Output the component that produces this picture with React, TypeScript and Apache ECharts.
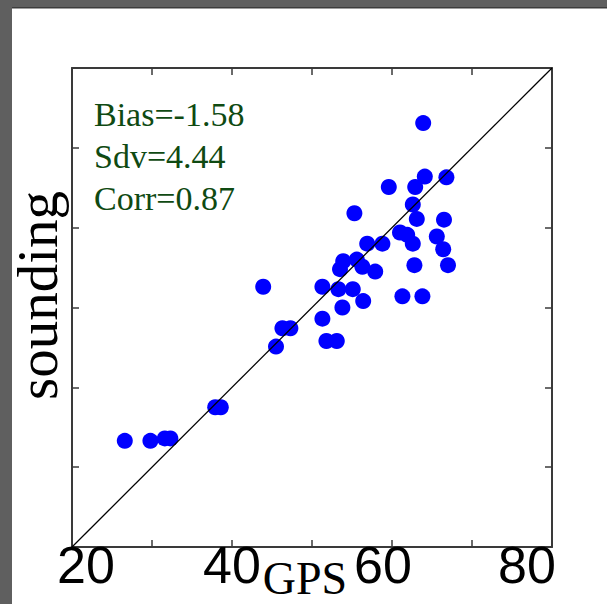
import React, { useEffect, useRef } from "react";
import * as echarts from "echarts";

const gpsValues = [26.6, 29.8, 31.6, 32.3, 37.9, 38.6, 43.9, 45.5, 46.3, 47.3, 51.3, 51.3, 51.8, 53.1, 53.3, 53.8, 53.5, 53.9, 55.1, 55.3, 55.6, 56.3, 56.4, 56.9, 57.9, 58.8, 59.6, 61.0, 61.3, 61.9, 62.6, 62.6, 62.8, 62.9, 63.1, 63.8, 63.9, 64.1, 65.6, 66.4, 66.5, 66.8, 67.0];
const soundingValues = [33.3, 33.3, 33.6, 33.6, 37.5, 37.5, 52.6, 45.1, 47.4, 47.4, 48.6, 52.6, 45.8, 45.8, 52.3, 50.0, 54.8, 55.8, 52.3, 61.8, 56.0, 55.1, 50.8, 58.0, 54.5, 58.0, 65.1, 59.4, 51.4, 59.1, 58.0, 62.9, 55.3, 65.1, 61.1, 51.4, 73.1, 66.4, 58.9, 57.3, 61.0, 66.3, 55.3];
const statLines = ["Bias=-1.58", "Sdv=4.44", "Corr=0.87"];
const axisMin = 20;
const axisMax = 80;
const tickStep = 10;
const labeledTicks = [20, 40, 60, 80];
const oneToOne = [[axisMin, axisMin], [axisMax, axisMax]];

const frameColor = "#3a3a3a";

export default function App() {
  const ref = useRef<HTMLDivElement>(null);
  useEffect(() => {
    if (!ref.current) return;
    const chart = echarts.init(ref.current, undefined, { renderer: "svg" });
    const points = gpsValues.map((g, i) => [g, soundingValues[i]]);
    const axisCommon = {
      type: "value" as const,
      min: axisMin,
      max: axisMax,
      interval: tickStep,
      splitLine: { show: false },
      axisLine: { show: true, lineStyle: { color: frameColor, width: 2 } },
      axisTick: { show: true, inside: true, length: 7, lineStyle: { color: frameColor, width: 1.5 } },
    };
    const labelFont = "'Liberation Sans Narrow', 'Arial Narrow', 'Liberation Sans', Arial, sans-serif";
    const richBase = { fontSize: 52, lineHeight: 52, fontFamily: labelFont, color: "#000" };
    chart.setOption({
      animation: false,
      backgroundColor: "#ffffff",
      grid: { left: 72, top: 68, width: 480, height: 479, outerBoundsMode: "none", containLabel: false },
      xAxis: [
        {
          ...axisCommon,
          position: "bottom",
          name: "GPS",
          nameLocation: "middle",
          nameGap: 8,
          nameMoveOverlap: false,
          nameTextStyle: {
            fontFamily: "'Liberation Serif', 'Times New Roman', serif",
            fontSize: 46,
            lineHeight: 46,
            color: "#000",
            padding: [0, 14, 0, 0],
            verticalAlign: "top",
          },
          axisLabel: {
            margin: -8,
            formatter: (v: number) => (labeledTicks.includes(v) ? `{l${v}|${v}}` : ""),
            rich: {
              l20: { ...richBase, padding: [0, 0, 0, 28] },
              l40: { ...richBase },
              l60: { ...richBase, padding: [0, 18, 0, 0] },
              l80: { ...richBase, padding: [0, 50, 0, 0] },
            },
          },
        },
        { ...axisCommon, position: "top", axisLabel: { show: false } },
      ],
      yAxis: [
        {
          ...axisCommon,
          position: "left",
          name: "sounding",
          nameLocation: "middle",
          nameGap: 6,
          nameRotate: 90,
          nameMoveOverlap: false,
          nameTextStyle: {
            fontFamily: "'Liberation Serif', 'Times New Roman', serif",
            fontSize: 57,
            color: "#000",
            padding: [0, 0, 0, 24],
          },
          axisLabel: { show: false },
        },
        { ...axisCommon, position: "right", axisLabel: { show: false } },
      ],
      graphic: [
        { type: "rect", shape: { x: 0, y: 0, width: 607, height: 8 }, style: { fill: "#5f5f5f" }, z: 100 },
        { type: "rect", shape: { x: 0, y: 7, width: 607, height: 1.5 }, style: { fill: "#3c3c3c" }, z: 100 },
        { type: "rect", shape: { x: 0, y: 0, width: 12, height: 604 }, style: { fill: "#5f5f5f" }, z: 100 },
        {
          type: "text",
          left: 94,
          top: 93,
          z: 50,
          style: {
            text: statLines.join("\n"),
            fontFamily: "'Liberation Serif', 'Times New Roman', serif",
            fontSize: 34,
            lineHeight: 42,
            fill: "#0f4a12",
          },
        },
      ],
      series: [
        {
          type: "line",
          data: oneToOne,
          xAxisIndex: 0,
          yAxisIndex: 0,
          symbol: "none",
          lineStyle: { color: "#000", width: 1.3 },
          z: 3,
          silent: true,
        },
        {
          type: "scatter",
          data: points,
          xAxisIndex: 0,
          yAxisIndex: 0,
          symbol: "circle",
          symbolSize: 16,
          itemStyle: { color: "#0000ff", opacity: 1 },
          z: 2,
        },
      ],
    });
    return () => chart.dispose();
  }, []);
  return <div ref={ref} style={{ position: "fixed", left: 0, top: 0, width: 607, height: 604 }} />;
}
